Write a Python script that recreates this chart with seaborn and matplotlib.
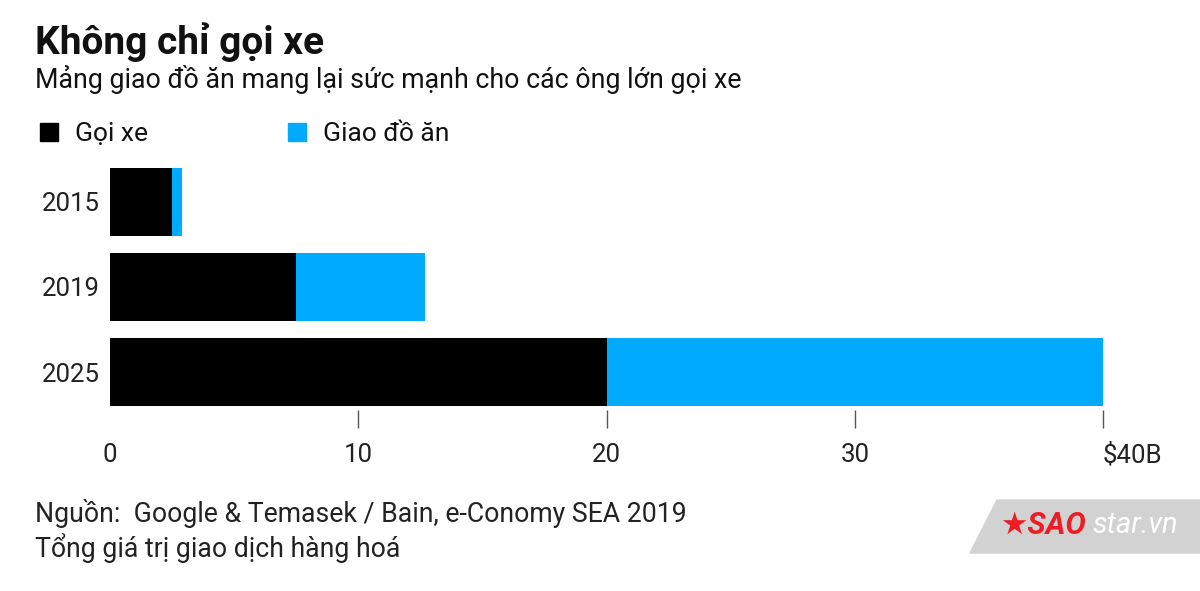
import matplotlib
matplotlib.use("Agg")
import matplotlib.pyplot as plt
from matplotlib.patches import Polygon, Patch
import seaborn as sns
import pandas as pd

# ===============================
# DATA
# ===============================
years = ["2015", "2019", "2025"]
ride_hailing = [2.5, 7.5, 20.0]     # Gọi xe
food_delivery = [0.4, 5.2, 20.0]    # Giao đồ ăn
x_ticks = [0, 10, 20, 30, 40]
x_tick_labels = ["0", "10", "20", "30", "$40B"]

BLACK = "#000000"
BLUE = "#00AAFF"

df = pd.DataFrame({"year": years, "ride": ride_hailing, "food": food_delivery})
df["total"] = df["ride"] + df["food"]

# ===============================
# STYLE
# ===============================
sns.set_theme(style="white")
plt.rcParams["font.family"] = ["Roboto", "DejaVu Sans"]
plt.rcParams["text.color"] = "#111111"

fig = plt.figure(figsize=(12, 5.91), dpi=100)
ax = fig.add_axes([110 / 1200, 1 - 410 / 591, (1103 - 110) / 1200, 246 / 591])

# stacked bars: total (blue) behind, ride-hailing (black) in front
sns.barplot(data=df, x="total", y="year", color=BLUE, width=0.8,
            saturation=1, linewidth=0, ax=ax)
sns.barplot(data=df, x="ride", y="year", color=BLACK, width=0.8,
            saturation=1, linewidth=0, ax=ax)

ax.set_xlim(0, 40)
ax.set_ylim(2.447, -0.447)
ax.set_xlabel("")
ax.set_ylabel("")
for s in ax.spines.values():
    s.set_visible(False)

ax.set_xticks(x_ticks)
ax.set_xticklabels(x_tick_labels, fontsize=18.5, color="#222222")
ax.tick_params(axis="x", length=13, width=1, color="#555555", pad=11, bottom=True)
ax.tick_params(axis="y", length=0, pad=7, labelsize=18.5, labelcolor="#222222")
ax.xaxis.get_major_ticks()[0].tick1line.set_visible(False)
ax.get_xticklabels()[-1].set_horizontalalignment("left")

# legend
handles = [Patch(color=BLACK), Patch(color=BLUE)]
fig.legend(handles, ["Gọi xe", "Giao đồ ăn"], loc="center left",
           bbox_to_anchor=(40 / 1200, 1 - 134 / 591), ncol=2, frameon=False,
           fontsize=19, handlelength=0.68, handleheight=0.68,
           handletextpad=0.64, columnspacing=5.32, borderpad=0, borderaxespad=0)

# titles
fig.text(35 / 1200, 1 - 42 / 591, "Không chỉ gọi xe", fontsize=28,
         fontweight="bold", va="center", ha="left", color="#111111")
fig.text(35 / 1200, 1 - 80 / 591,
         "Mảng giao đồ ăn mang lại sức mạnh cho các ông lớn gọi xe",
         fontsize=19.3, va="center", ha="left", color="#111111")

# footer
fig.text(35 / 1200, 1 - 513 / 591,
         "Nguồn:  Google & Temasek / Bain, e-Conomy SEA 2019",
         fontsize=19.2, va="center", ha="left", color="#222222")
fig.text(35 / 1200, 1 - 548 / 591, "Tổng giá trị giao dịch hàng hoá",
         fontsize=19.2, va="center", ha="left", color="#222222")

# watermark
wm = Polygon([(970 / 1200, 1 - 553 / 591), (997 / 1200, 1 - 500 / 591),
              (1.0, 1 - 500 / 591), (1.0, 1 - 553 / 591)],
             closed=True, transform=fig.transFigure, color="#d2d2d2", zorder=0)
fig.patches.append(wm)
fig.text(1000 / 1200, 1 - 525 / 591, "★SAO", fontsize=22, color="#ee1c25",
         fontweight="bold", style="italic", va="center", ha="left",
         family=["Roboto", "DejaVu Sans"])
fig.text(1092 / 1200, 1 - 525 / 591, "star.vn", fontsize=21, color="white",
         style="italic", va="center", ha="left")

fig.savefig("out.png", dpi=100)
